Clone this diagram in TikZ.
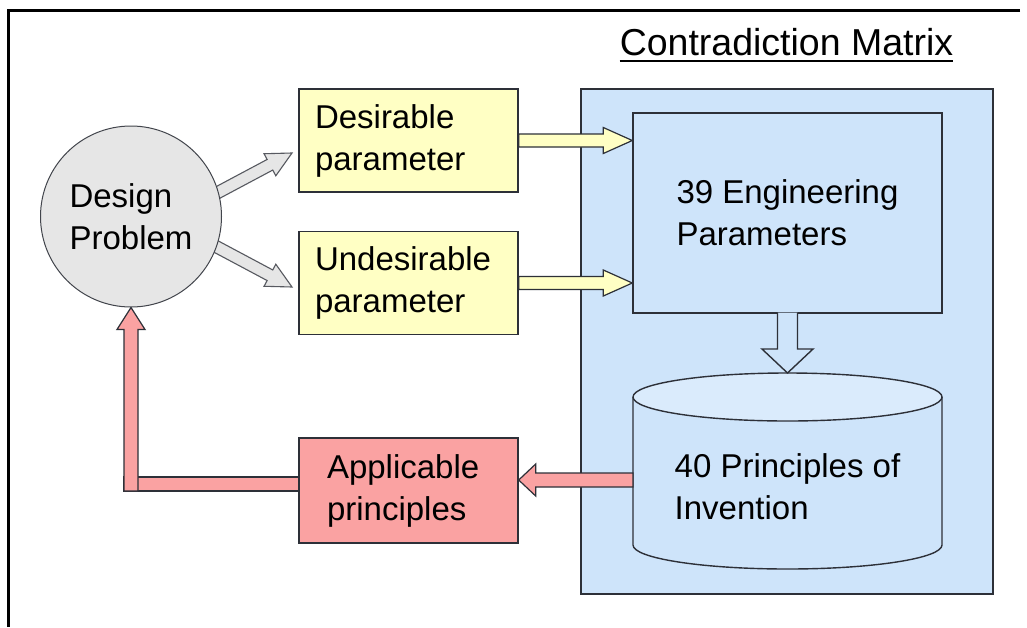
\documentclass[tikz,border=0pt]{standalone}
\usepackage{fontspec}
\setmainfont{Liberation Sans}
\usetikzlibrary{calc}
\definecolor{bluefill}{RGB}{206,228,250}
\definecolor{bluetop}{RGB}{218,235,252}
\definecolor{yellowfill}{RGB}{255,255,196}
\definecolor{pinkfill}{RGB}{250,162,162}
\definecolor{greyfill}{RGB}{230,230,230}
\definecolor{edgecol}{RGB}{45,48,56}
% closed block arrow: style, from, to, shaft half width, head half width, head length
\newcommand{\fatarrow}[6]{%
  \coordinate (fah) at ($(#3)!#6!(#2)$);
  \draw[#1] ($(#2)!#4!90:(#3)$) -- ($(fah)!#4!90:(#3)$) -- ($(fah)!#5!90:(#3)$) -- (#3)
    -- ($(fah)!#5!-90:(#3)$) -- ($(fah)!#4!-90:(#3)$) -- ($(#2)!#4!-90:(#3)$) -- cycle;
}
% open-based block arrow (no line across the base)
\newcommand{\stemarrow}[6]{%
  \coordinate (fah) at ($(#3)!#6!(#2)$);
  \draw[#1] ($(#2)!#4!90:(#3)$) -- ($(fah)!#4!90:(#3)$) -- ($(fah)!#5!90:(#3)$) -- (#3)
    -- ($(fah)!#5!-90:(#3)$) -- ($(fah)!#4!-90:(#3)$) -- ($(#2)!#4!-90:(#3)$);
}
\tikzset{
  bodytext/.style={font=\fontsize{33}{42}\selectfont, align=left},
  boxline/.style={draw=edgecol, line width=1.4pt},
  yellowbox/.style={boxline, fill=yellowfill, bodytext, minimum width=219pt, minimum height=103pt, inner xsep=16pt, inner ysep=0pt, text width=187pt},
  pinkbox/.style={boxline, fill=pinkfill, bodytext, minimum width=219pt, minimum height=105pt, inner xsep=28pt, inner ysep=0pt, text width=163pt},
  yarrow/.style={draw=edgecol, line width=1.2pt, fill=yellowfill, line join=miter},
  garrow/.style={draw=edgecol!80, line width=1.1pt, fill=greyfill, line join=miter},
  parrow/.style={draw=edgecol, line width=1.2pt, fill=pinkfill, line join=miter},
  barrow/.style={draw=edgecol, line width=1.4pt, fill=bluefill, line join=miter},
}
\begin{document}
\begin{tikzpicture}[x=1pt, y=-1pt]
\useasboundingbox (0,0) rectangle (1027,627);
\fill[white] (0,0) rectangle (1027,627);
% frame
\draw[line width=3pt] (1020,10.5) -- (8,10.5) -- (8,627);
% title
\node[font=\fontsize{37.5}{45}\selectfont, inner sep=0pt, anchor=base] (title) at (786.5,55) {Contradiction Matrix};
\draw[line width=1.5pt] ($(title.base west)+(0,6)$) -- ($(title.base east)+(0,6)$);
% contradiction matrix area
\node[boxline, fill=bluefill, minimum width=412pt, minimum height=505pt, inner sep=0pt] (matrix) at (787,341.5) {};
\node[boxline, fill=bluefill, bodytext, minimum width=309pt, minimum height=200pt, inner sep=0pt] (eng) at (787.5,213) {39 Engineering\\Parameters};
% cylinder
\fill[bluefill] (633,397) -- (633,545) arc[start angle=180, end angle=360, x radius=154.5pt, y radius=24pt] -- (942,397) -- cycle;
\draw[boxline] (633,397) -- (633,545) arc[start angle=180, end angle=360, x radius=154.5pt, y radius=24pt] -- (942,397);
\draw[boxline, fill=bluetop] (787.5,397) ellipse [x radius=154.5pt, y radius=24pt];
\node[bodytext, inner sep=0pt] (cyltext) at (787.5,487) {40 Principles of\\Invention};
\coordinate (cyltop) at (787.5,373);
% hollow arrow from parameters to principles
\coordinate (engout) at ($(eng.south)+(0,-1.2)$);
\stemarrow{barrow}{engout}{cyltop}{10pt}{25.5pt}{24pt}
% parameter boxes
\node[yellowbox] (des) at (408.5,140.5) {Desirable\\parameter};
\node[yellowbox] (und) at (408.5,283) {Undesirable\\parameter};
\node[pinkbox] (app) at (408.5,490.5) {Applicable\\principles};
% yellow arrows
\coordinate (y1e) at (eng.west |- des.east);
\coordinate (y2e) at (eng.west |- und.east);
\fatarrow{yarrow}{des.east}{y1e}{6.5pt}{13pt}{29pt}
\fatarrow{yarrow}{und.east}{y2e}{6.5pt}{13pt}{29pt}
% red arrow from principles of invention to applicable principles
\coordinate (r1s) at (633,480);
\coordinate (r1e) at (app.east |- r1s);
\fatarrow{parrow}{r1s}{r1e}{7pt}{16pt}{17pt}
% grey arrows from design problem
\coordinate (g1s) at (201,201.5);
\coordinate (g1e) at (292,153);
\coordinate (g2s) at (201,238.5);
\coordinate (g2e) at (292,287);
\fatarrow{garrow}{g1s}{g1e}{6pt}{12.5pt}{25pt}
\fatarrow{garrow}{g2s}{g2e}{6pt}{12.5pt}{25pt}
% design problem
\node[circle, draw=edgecol!90, line width=1pt, fill=greyfill, minimum size=181pt, inner sep=0pt, bodytext] (dp) at (131,216.5) {Design\\Problem};
% feedback connector
\coordinate (lcorner) at (131,491);
\draw[parrow] (124,477) rectangle (app.west |- lcorner);
\fatarrow{parrow}{lcorner}{dp.south}{7pt}{14pt}{22pt}
\end{tikzpicture}
\end{document}
